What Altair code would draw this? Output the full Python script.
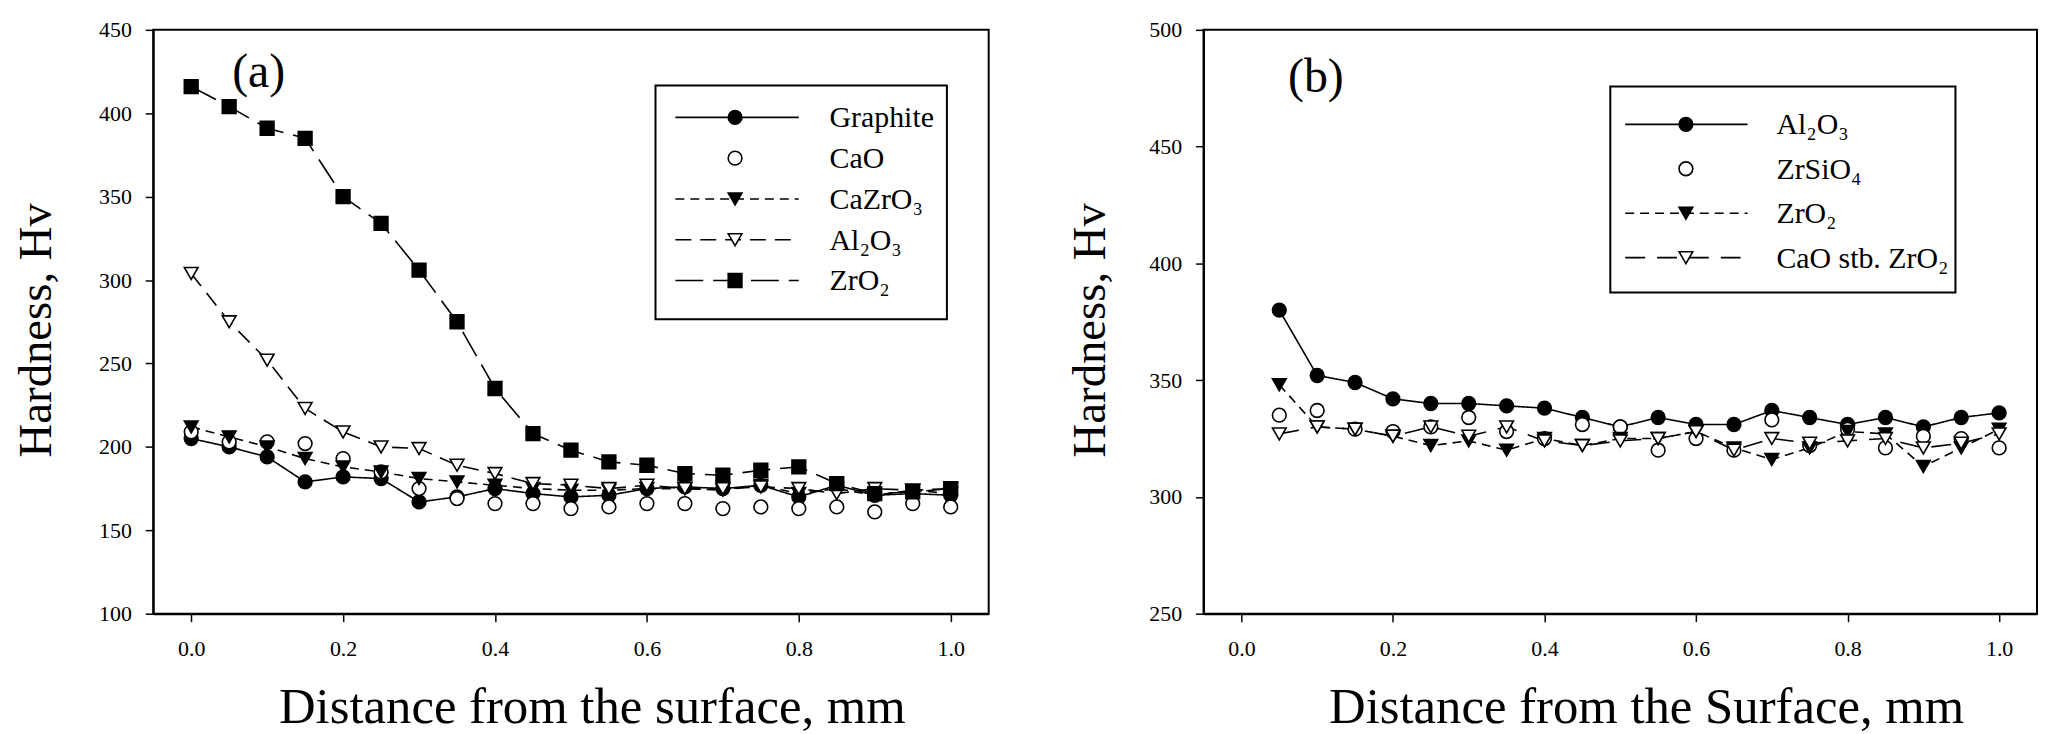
import altair as alt
import pandas as pd

# ---------------- data ----------------
x_ticks = [0.0, 0.2, 0.4, 0.6, 0.8, 1.0]
ya_ticks = [100, 150, 200, 250, 300, 350, 400, 450]
yb_ticks = [250, 300, 350, 400, 450, 500]

# panel (a)
xa = [0.0, 0.05, 0.1, 0.15, 0.2, 0.25, 0.3, 0.35, 0.4, 0.45, 0.5,
      0.55, 0.6, 0.65, 0.7, 0.75, 0.8, 0.85, 0.9, 0.95, 1.0]
a_graphite = [205, 200, 194, 179, 182, 181, 167, 170, 175, 172, 170,
              171, 175, 176, 175, 177, 170, 177, 171, 172, 171]
a_cao = [209, 203, 203, 202, 193, 185, 175, 169, 166, 166, 163,
         164, 166, 166, 163, 164, 163, 164, 161, 166, 164]
a_cazro3 = [212, 206, 200, 193, 188, 185, 181, 179, 177, 175, 174,
            174, 175, 175, 174, 177, 172, 175, 171, 174, 172]
a_al2o3 = [304, 275, 252, 223, 209, 200, 199, 189, 184, 178, 177,
           175, 177, 175, 175, 176, 175, 172, 175, 174, 175]
a_zro2 = [416, 404, 391, 385, 350, 334, 306, 275, 235, 208, 198,
          191, 189, 184, 183, 186, 188, 178, 172, 173, 175]
a_names = ["Graphite", "CaO", "CaZrO₃", "Al₂O₃", "ZrO₂"]

# panel (b)
xb = [0.05, 0.1, 0.15, 0.2, 0.25, 0.3, 0.35, 0.4, 0.45, 0.5,
      0.55, 0.6, 0.65, 0.7, 0.75, 0.8, 0.85, 0.9, 0.95, 1.0]
b_al2o3 = [380, 352, 349, 342, 340, 340, 339, 338, 334, 330,
           334, 331, 331, 337, 334, 331, 334, 330, 334, 336]
b_zrsio4 = [335, 337, 329, 328, 330, 334, 328, 325, 331, 330,
            320, 325, 320, 333, 322, 329, 321, 326, 325, 321]
b_zro2 = [348, 330, 329, 326, 322, 324, 320, 325, 322, 325,
          325, 328, 321, 316, 321, 328, 327, 313, 321, 329]
b_caostb = [327, 330, 329, 326, 330, 326, 330, 324, 322, 324,
            325, 328, 320, 325, 323, 324, 325, 321, 323, 327]
b_names = ["Al₂O₃", "ZrSiO₄", "ZrO₂", "CaO stb. ZrO₂"]

FONT = "Liberation Serif"
MSIZE = 190


def long_df(x, names, series, field):
    rows = []
    for n, vals in zip(names, series):
        for xv, yv in zip(x, vals):
            rows.append({"x": xv, "y": yv, field: n})
    return pd.DataFrame(rows)


def panel(df, field, names, shapes, fills, dashes, lined, ydom, yticks,
          width, height, ytitle_x, xtitle, xtitle_x, box, rows_y, line_x,
          mark_x, text_x, tag, tag_xy):
    shape_s = alt.Scale(domain=names, range=shapes)
    fill_s = alt.Scale(domain=names, range=fills)
    dash_s = alt.Scale(domain=names, range=dashes)
    xs = alt.Scale(domain=[-0.05, 1.05], nice=False, zero=False)
    ys = alt.Scale(domain=ydom, nice=False, zero=False)
    xax = alt.Axis(values=x_ticks, format=".1f", title=xtitle,
                   titleX=xtitle_x, titleY=109, titleBaseline="alphabetic",
                   titleAlign="center", titleFontSize=51, labelPadding=17)
    yax = alt.Axis(values=yticks, format="d", title="Hardness, Hv",
                   titleX=ytitle_x, titleY=height / 2 + 8,
                   titleBaseline="alphabetic", titleAlign="center",
                   titleFontSize=47, labelPadding=14)

    base = alt.Chart(df)
    lines = base.transform_filter(
        alt.FieldOneOfPredicate(field=field, oneOf=lined)
    ).mark_line(color="black", strokeWidth=1.6).encode(
        x=alt.X("x:Q", scale=xs, axis=xax),
        y=alt.Y("y:Q", scale=ys, axis=yax),
        strokeDash=alt.StrokeDash(f"{field}:N", scale=dash_s, legend=None),
    )
    pts = base.mark_point(filled=True, size=MSIZE, stroke="black",
                          strokeWidth=1.6, opacity=1).encode(
        x=alt.X("x:Q", scale=xs, axis=xax),
        y=alt.Y("y:Q", scale=ys, axis=yax),
        shape=alt.Shape(f"{field}:N", scale=shape_s, legend=None),
        fill=alt.Fill(f"{field}:N", scale=fill_s, legend=None),
    )
    data_group = alt.layer(lines, pts)

    # legend (drawn inside the plot area)
    leg = pd.DataFrame({field: names, "row": list(range(len(names)))})
    ry = alt.Scale(domain=[0, len(names) - 1], range=rows_y)
    box_l = alt.Chart(pd.DataFrame({"k": [0]})).mark_rect(
        fill="white", stroke="black", strokeWidth=2).encode(
        x=alt.value(box[0]), x2=alt.value(box[1]),
        y=alt.value(box[2]), y2=alt.value(box[3]))
    leg_lines = alt.Chart(leg).transform_filter(
        alt.FieldOneOfPredicate(field=field, oneOf=lined)
    ).mark_rule(color="black", strokeWidth=1.6).encode(
        x=alt.value(line_x[0]), x2=alt.value(line_x[1]),
        y=alt.Y("row:Q", scale=ry, axis=None),
        strokeDash=alt.StrokeDash(f"{field}:N", scale=dash_s, legend=None),
    )
    leg_pts = alt.Chart(leg).mark_point(filled=True, size=MSIZE, stroke="black",
                                        strokeWidth=1.6, opacity=1).encode(
        x=alt.value(mark_x),
        y=alt.Y("row:Q", scale=ry, axis=None),
        shape=alt.Shape(f"{field}:N", scale=shape_s, legend=None),
        fill=alt.Fill(f"{field}:N", scale=fill_s, legend=None),
    )
    leg_txt = alt.Chart(leg).mark_text(
        align="left", baseline="middle", font=FONT, fontSize=30,
        color="black", dy=1).encode(
        x=alt.value(text_x),
        y=alt.Y("row:Q", scale=ry, axis=None),
        text=f"{field}:N",
    )
    tag_txt = alt.Chart(pd.DataFrame({"t": [tag]})).mark_text(
        align="center", baseline="middle", font=FONT, fontSize=48,
        color="black").encode(
        x=alt.value(tag_xy[0]), y=alt.value(tag_xy[1]), text="t:N")
    legend_group = alt.layer(box_l, leg_lines, leg_pts, leg_txt, tag_txt)

    return alt.layer(data_group, legend_group).resolve_scale(
        y="independent").properties(width=width, height=height)


df_a = long_df(xa, a_names, [a_graphite, a_cao, a_cazro3, a_al2o3, a_zro2], "sa")
df_b = long_df(xb, b_names, [b_al2o3, b_zrsio4, b_zro2, b_caostb], "sb")

pa = panel(df_a, "sa", a_names,
           ["circle", "circle", "triangle-down", "triangle-down", "square"],
           ["black", "white", "black", "white", "black"],
           [[1, 0], [1, 0], [9, 6], [16, 9], [28, 10]],
           ["Graphite", "CaZrO₃", "Al₂O₃", "ZrO₂"],
           [100, 450], ya_ticks, 840, 587, -103,
           "Distance from the surface, mm", 441,
           [505, 798, 56, 291], [88, 252], [525, 649], 585, 680,
           "(a)", [106, 43])

pb = panel(df_b, "sb", b_names,
           ["circle", "circle", "triangle-down", "triangle-down"],
           ["black", "white", "black", "white"],
           [[1, 0], [1, 0], [9, 6], [20, 12]],
           ["Al₂O₃", "ZrO₂", "CaO stb. ZrO₂"],
           [250, 500], yb_ticks, 838, 587, -100,
           "Distance from the Surface, mm", 445,
           [409, 756, 57, 264], [95, 229], [424, 547], 485, 576,
           "(b)", [113, 48])

chart = alt.hconcat(pa, pb, spacing=76).resolve_scale(
    shape="independent", fill="independent", strokeDash="independent"
).properties(
    padding={"left": 4, "top": 8, "right": 0, "bottom": 0},
    background="white",
).configure_view(
    stroke="black", strokeWidth=2
).configure_axis(
    labelFont=FONT, labelFontSize=22, labelColor="black",
    titleFont=FONT, titleFontWeight="normal",
    titleColor="black", domainColor="black", domainWidth=2,
    tickColor="black", tickWidth=1.5, tickSize=8, grid=False,
)

chart.save("out.html", embed_options={"renderer": "svg", "actions": False})
